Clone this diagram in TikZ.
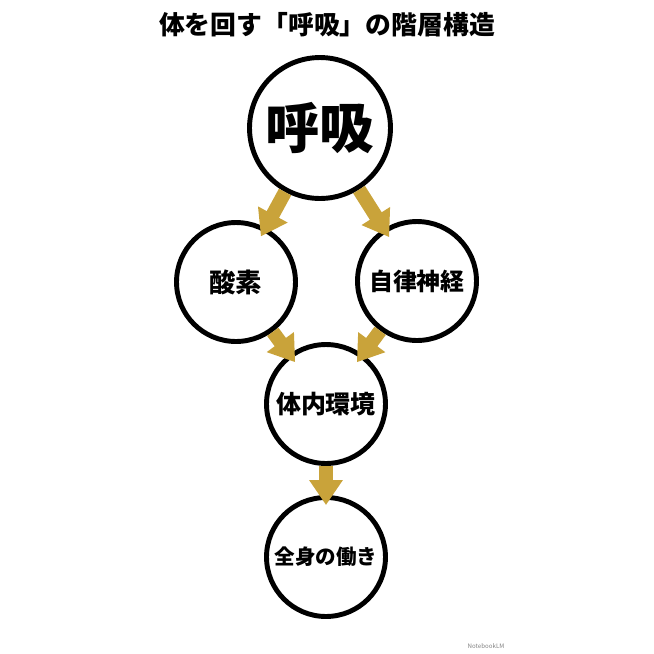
\documentclass[tikz,border=0pt]{standalone}
\usepackage{fontspec}
\setmainfont{Noto Sans CJK JP}[BoldFont={Noto Sans CJK JP Black}]
\usetikzlibrary{arrows.meta}
\definecolor{gold}{RGB}{201,163,58}

\begin{document}
\begin{tikzpicture}[x=0.02cm, y=-0.02cm,
    stage/.style={circle, draw, line width=2.8pt, minimum size=2.38cm, inner sep=0pt, font=\bfseries},
    flow/.style={gold, line width=0.28cm, -{Triangle[width=0.64cm, length=0.5cm]}, shorten >=-0.2cm}]
    \useasboundingbox (0,0) rectangle (654,654);

    \node[font=\bfseries\fontsize{14.7}{16}\selectfont] (title) at (327,25) {体を回す「呼吸」の階層構造};

    % circles
    \node[stage, minimum size=2.82cm, font=\bfseries\fontsize{31}{34}\selectfont] (breath) at (320,128) {呼吸};
    \node[stage, font=\bfseries\fontsize{15}{17}\selectfont] (oxygen) at (236,282) {酸素};
    \node[stage, font=\bfseries\fontsize{13.6}{16}\selectfont] (nerve) at (417,281) {自律神経};
    \node[stage, font=\bfseries\fontsize{14.2}{16}\selectfont] (inner) at (326,404) {体内環境};
    \node[stage, font=\bfseries\fontsize{11.7}{14}\selectfont] (body) at (326,557) {全身の働き};

    % arrows
    \draw[flow] (breath) -- (oxygen);
    \draw[flow] (breath) -- (nerve);
    \draw[flow] (oxygen) -- (inner);
    \draw[flow] (nerve) -- (inner);
    \draw[flow] (inner) -- (body);

    \node[gray, font=\fontsize{3.5}{4}\selectfont] (logo) at (486,646) {NotebookLM};
\end{tikzpicture}
\end{document}
